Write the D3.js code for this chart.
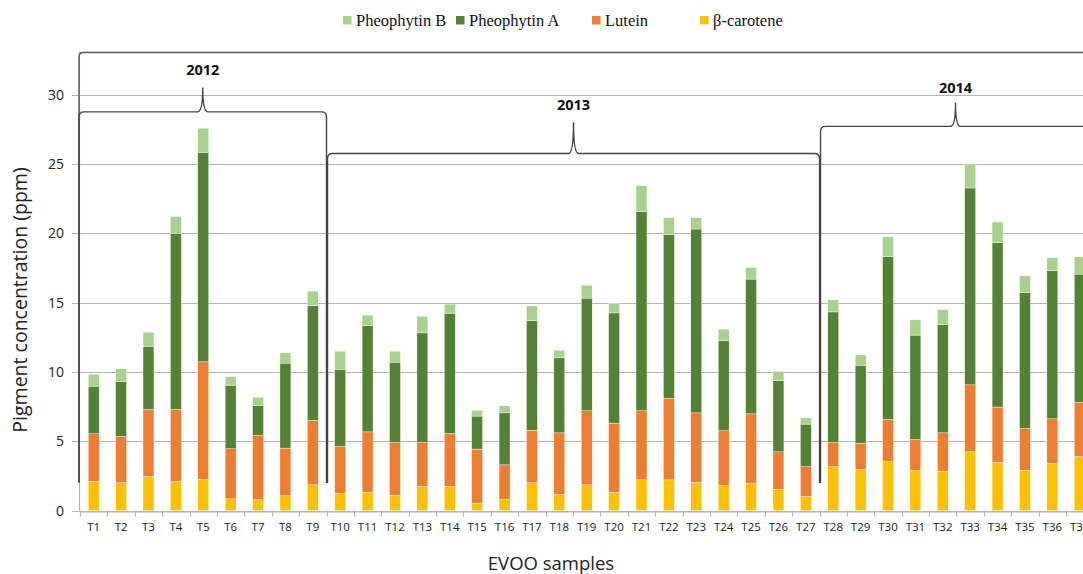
<!DOCTYPE html>
<html>
<head>
<meta charset="utf-8">
<script src="https://cdn.jsdelivr.net/npm/d3@7"></script>
<style>
  body { margin: 0; background: #fff; }
  svg { display: block; overflow: hidden; }
</style>
</head>
<body>
<svg width="1083" height="574"></svg>
<script>
// samples
var samples = ["T1","T2","T3","T4","T5","T6","T7","T8","T9","T10","T11","T12","T13",
  "T14","T15","T16","T17","T18","T19","T20","T21","T22","T23","T24","T25","T26","T27",
  "T28","T29","T30","T31","T32","T33","T34","T35","T36","T37"];

// pigment values (ppm)
var betaCarotene = [2.09,2.0,2.45,2.09,2.26,0.84,0.77,1.06,1.85,1.23,1.30,1.11,1.73,
  1.73,0.53,0.79,2.0,1.15,1.85,1.30,2.21,2.21,2.02,1.8,1.97,1.54,1.01,
  3.16,2.98,3.53,2.91,2.84,4.23,3.46,2.91,3.40,3.89];
var lutein = [3.44,3.34,4.83,5.19,8.46,3.61,4.64,3.44,4.64,3.39,4.37,3.79,3.17,
  3.82,3.90,2.50,3.79,4.45,5.34,5.0,4.98,5.89,5.02,3.95,5.0,2.69,2.15,
  1.74,1.88,3.03,2.21,2.76,4.83,4.0,3.0,3.21,3.90];
var pheophytinA = [3.44,3.96,4.57,12.72,15.12,4.59,2.14,6.13,8.29,5.57,7.65,5.8,7.91,
  8.68,2.38,3.75,7.91,5.41,8.13,7.95,14.35,11.8,13.26,6.51,9.72,5.13,3.07,
  9.42,5.62,11.75,7.53,7.79,14.2,11.86,9.82,10.69,9.26];
var pheophytinB = [0.86,0.92,1.01,1.2,1.73,0.62,0.62,0.74,1.04,1.30,0.77,0.79,1.20,
  0.65,0.42,0.51,1.06,0.55,0.93,0.67,1.89,1.22,0.82,0.82,0.84,0.68,0.45,
  0.87,0.74,1.44,1.10,1.10,1.73,1.49,1.19,0.94,1.24];

var yTicks = [0, 5, 10, 15, 20, 25, 30];

// harvest years: first and last sample of each group
var years = ["2012", "2013", "2014"];
var yearStart = ["T1", "T10", "T28"];
var yearEnd = ["T9", "T27", "T37"];

var seriesNames = ["β-carotene", "Lutein", "Pheophytin A", "Pheophytin B"];
var colors = {
  "β-carotene": "#ffc000",
  "Lutein": "#ed7d31",
  "Pheophytin A": "#548235",
  "Pheophytin B": "#a9d18e"
};

var svg = d3.select("svg");

var x = d3.scaleBand().domain(samples).range([80, 80 + 37 * 27.39]).paddingInner(0.6).paddingOuter(0.3);
var y = d3.scaleLinear().domain([0, 30]).range([510.5, 94.5]);

// rows for the stack
var rows = samples.map(function (s, i) {
  return {
    sample: s,
    "β-carotene": betaCarotene[i],
    "Lutein": lutein[i],
    "Pheophytin A": pheophytinA[i],
    "Pheophytin B": pheophytinB[i]
  };
});
var stacked = d3.stack().keys(seriesNames)(rows);

// gridlines
svg.append("g")
  .selectAll("line")
  .data(yTicks)
  .enter()
  .append("line")
  .attr("x1", 72)
  .attr("x2", 1100)
  .attr("y1", function (d) { return Math.round(y(d)) + 0.5; })
  .attr("y2", function (d) { return Math.round(y(d)) + 0.5; })
  .attr("stroke", "#b4b4b4")
  .attr("stroke-width", 1.2);

// y axis line
svg.append("line")
  .attr("x1", 79.5).attr("x2", 79.5)
  .attr("y1", 52).attr("y2", y(0))
  .attr("stroke", "#b4b4b4")
  .attr("stroke-width", 1.2);

// y tick labels
svg.append("g")
  .selectAll("text")
  .data(yTicks)
  .enter()
  .append("text")
  .attr("x", 64)
  .attr("y", function (d) { return y(d) + 5; })
  .attr("text-anchor", "end")
  .attr("font-family", "Open Sans, sans-serif")
  .attr("font-size", 14)
  .attr("fill", "#222")
  .text(function (d) { return d; });

// x axis
var xAxis = svg.append("g")
  .attr("transform", "translate(0," + (Math.round(y(0)) + 0.5) + ")")
  .call(d3.axisBottom(x).tickSize(0).tickPadding(11));
xAxis.select(".domain").attr("stroke", "#b4b4b4").attr("stroke-width", 1.2);
xAxis.selectAll("text")
  .attr("font-family", "Open Sans, sans-serif")
  .attr("font-size", 11.5)
  .attr("fill", "#222");

// tick marks between categories
var step = x.step();
svg.append("g")
  .selectAll("line")
  .data(d3.range(samples.length + 1))
  .enter()
  .append("line")
  .attr("x1", function (i) { return Math.round(80 + i * step) + 0.5; })
  .attr("x2", function (i) { return Math.round(80 + i * step) + 0.5; })
  .attr("y1", y(0))
  .attr("y2", y(0) + 6)
  .attr("stroke", "#b4b4b4")
  .attr("stroke-width", 1.2);

// bars
svg.append("g")
  .selectAll("g")
  .data(stacked)
  .enter()
  .append("g")
  .attr("fill", function (d) { return colors[d.key]; })
  .selectAll("rect")
  .data(function (d) { return d; })
  .enter()
  .append("rect")
  .attr("x", function (d) { return x(d.data.sample); })
  .attr("width", x.bandwidth())
  .attr("y", function (d) { return y(d[1]); })
  .attr("height", function (d) { return y(d[0]) - y(d[1]); })
  .attr("stroke", "#fff")
  .attr("stroke-width", 0.4);

// big frame across the top
svg.append("path")
  .attr("d", "M1100,52.5 H83 Q79,52.5 79,57 V482")
  .attr("fill", "none")
  .attr("stroke", "#555")
  .attr("stroke-width", 1.4);

// year braces
var braceLevel = [28.75, 25.75, 27.7];
var tipLevel = [30.5, 28.0, 29.4];
var labelLevel = [31.8, 29.25, 30.5];

years.forEach(function (yr, i) {
  var x0 = x(yearStart[i]) - x.step() * x.paddingOuter() + 0.5;
  if (i > 0) x0 += 0.5;
  var x1 = x(yearEnd[i]) + x.bandwidth() + x.step() * 0.3;
  if (i === 0) x0 = 79;
  var xm = i === 2 ? 955.5 : (x0 + x1) / 2;
  var yb = y(braceLevel[i]);
  var yt = y(tipLevel[i]);
  var bottom = 483;
  var d = "M" + x0 + "," + bottom + " V" + (yb + 5) +
    " Q" + x0 + "," + yb + " " + (x0 + 5) + "," + yb +
    " H" + (xm - 5) +
    " Q" + xm + "," + yb + " " + xm + "," + yt +
    " Q" + xm + "," + yb + " " + (xm + 5) + "," + yb;
  if (i < 2) {
    d += " H" + (x1 - 5) + " Q" + x1 + "," + yb + " " + x1 + "," + (yb + 5) + " V" + bottom;
  } else {
    d += " H1100";
  }
  svg.append("path")
    .attr("d", d)
    .attr("fill", "none")
    .attr("stroke", "#444")
    .attr("stroke-width", 1.4);
  svg.append("text")
    .attr("x", xm)
    .attr("y", y(labelLevel[i]) + 5)
    .attr("text-anchor", "middle")
    .attr("font-family", "Open Sans, sans-serif")
    .attr("font-weight", "bold")
    .attr("font-size", 14.5)
    .attr("fill", "#111")
    .text(yr);
});

// legend
var legendOrder = ["Pheophytin B", "Pheophytin A", "Lutein", "β-carotene"];
var legendX = [343, 456, 592, 700];
var legend = svg.append("g");
legendOrder.forEach(function (name, i) {
  legend.append("rect")
    .attr("x", legendX[i])
    .attr("y", 16)
    .attr("width", 8.5)
    .attr("height", 8.5)
    .attr("fill", colors[name]);
  legend.append("text")
    .attr("x", legendX[i] + 13)
    .attr("y", 26)
    .attr("font-family", "Liberation Serif, serif")
    .attr("font-size", 16.5)
    .attr("fill", "#111")
    .text(name);
});

// axis titles
svg.append("text")
  .attr("transform", "translate(27,300) rotate(-90)")
  .attr("text-anchor", "middle")
  .attr("font-family", "Open Sans, sans-serif")
  .attr("font-size", 19.5)
  .attr("fill", "#222")
  .text("Pigment concentration (ppm)");

svg.append("text")
  .attr("x", 551)
  .attr("y", 570)
  .attr("text-anchor", "middle")
  .attr("font-family", "Open Sans, sans-serif")
  .attr("font-size", 18.5)
  .attr("fill", "#222")
  .text("EVOO samples");
</script>
</body>
</html>
